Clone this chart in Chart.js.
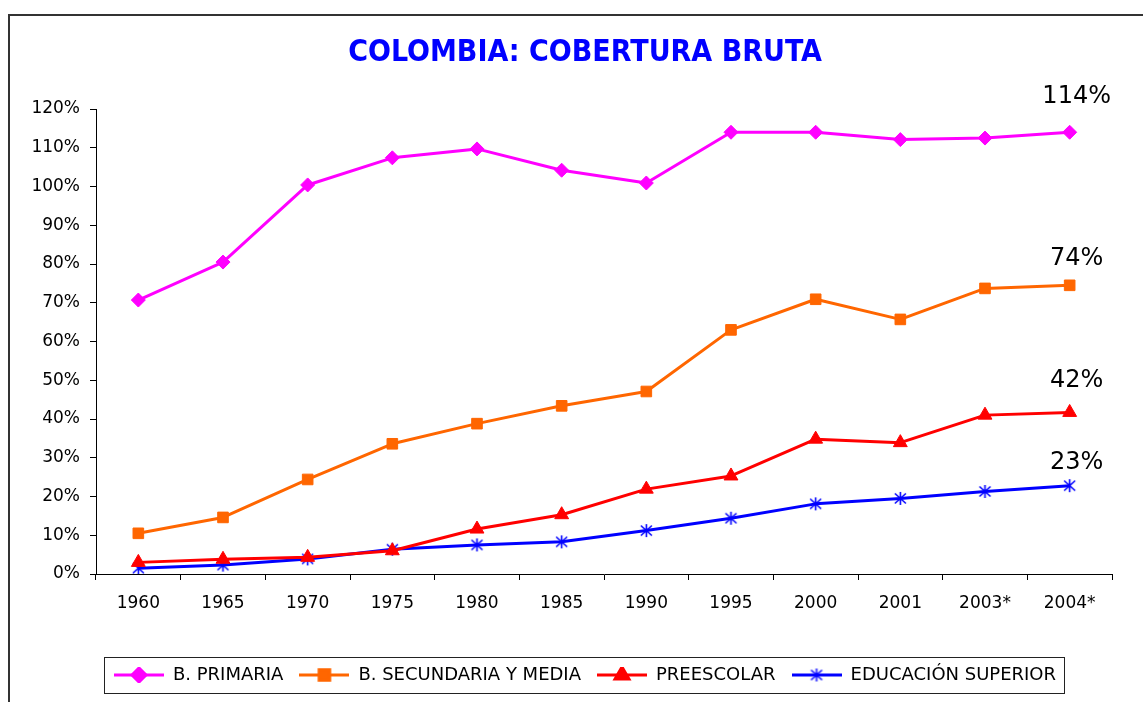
<!DOCTYPE html>
<html>
<head>
<meta charset="utf-8">
<script src="https://cdn.jsdelivr.net/npm/chart.js@4/dist/chart.umd.min.js"></script>
<style>
  body { margin: 0; background: #fff; }
  #frame { position: absolute; left: 8px; top: 14px; width: 1200px; height: 760px; border: 2px solid #333; }
  #wrap { position: absolute; left: 0; top: 0; width: 1143px; height: 702px; }
</style>
</head>
<body>
<div id="frame"></div>
<div id="wrap"><canvas id="chart" width="1143" height="702"></canvas></div>
<script>
const years = ["1960", "1965", "1970", "1975", "1980", "1985", "1990", "1995", "2000", "2001", "2003*", "2004*"];
const primaria = [70.7, 80.5, 100.4, 107.4, 109.7, 104.2, 100.9, 114.0, 114.0, 112.1, 112.5, 114.0];
const secundaria = [10.5, 14.6, 24.4, 33.6, 38.8, 43.4, 47.1, 63.0, 70.9, 65.7, 73.7, 74.5];
const preescolar = [3.0, 3.8, 4.3, 6.0, 11.6, 15.3, 21.9, 25.3, 34.8, 33.9, 41.0, 41.7];
const superior = [1.5, 2.3, 3.9, 6.4, 7.5, 8.3, 11.2, 14.4, 18.1, 19.5, 21.3, 22.8];
const endLabels = ["114%", "74%", "42%", "23%"];
const yTicks = [0, 10, 20, 30, 40, 50, 60, 70, 80, 90, 100, 110, 120];

// asterisk marker used by EDUCACIÓN SUPERIOR
function starMarker(color) {
  const c = document.createElement("canvas");
  c.width = 15; c.height = 15;
  const g = c.getContext("2d");
  g.strokeStyle = color;
  g.lineWidth = 1.6;
  g.beginPath();
  g.moveTo(7.5, 1); g.lineTo(7.5, 14);
  g.moveTo(2, 2.5); g.lineTo(13, 12.5);
  g.moveTo(13, 2.5); g.lineTo(2, 12.5);
  g.stroke();
  return c;
}

// legend swatch: line with the marker in the middle
function legendSwatch(ds) {
  const c = document.createElement("canvas");
  c.width = 50; c.height = 16;
  const g = c.getContext("2d");
  g.strokeStyle = ds.borderColor;
  g.lineWidth = 3;
  g.beginPath(); g.moveTo(0, 8); g.lineTo(50, 8); g.stroke();
  g.fillStyle = ds.borderColor;
  g.strokeStyle = ds.borderColor;
  Chart.helpers.drawPoint(g, { pointStyle: ds.pointStyle, radius: ds.pointRadius, rotation: 0, borderWidth: 1 }, 25, 8);
  return c;
}

const labelFont = "'DejaVu Sans', Verdana, sans-serif";

const endLabelPlugin = {
  id: "endLabels",
  afterDatasetsDraw(chart) {
    const ctx = chart.ctx;
    ctx.save();
    ctx.font = "24px " + labelFont;
    ctx.fillStyle = "#000";
    ctx.textAlign = "center";
    ctx.textBaseline = "middle";
    chart.data.datasets.forEach((ds, i) => {
      const meta = chart.getDatasetMeta(i);
      const pt = meta.data[meta.data.length - 1];
      ctx.fillText(endLabels[i], pt.x + 7, pt.y - ds.labelLift);
    });
    ctx.restore();
  },
};

const legendBoxPlugin = {
  id: "legendBox",
  afterDraw(chart) {
    const boxes = chart.legend.legendHitBoxes;
    if (!boxes || !boxes.length) return;
    const left = Math.min(...boxes.map((b) => b.left)) - 10;
    const right = Math.max(...boxes.map((b) => b.left + b.width)) + 8;
    const top = boxes[0].top - 9;
    const bottom = boxes[0].top + boxes[0].height + 9;
    const ctx = chart.ctx;
    ctx.save();
    ctx.strokeStyle = "#222";
    ctx.lineWidth = 1;
    ctx.strokeRect(Math.round(left) + 0.5, Math.round(top) + 0.5, Math.round(right - left), Math.round(bottom - top));
    ctx.restore();
  },
};

const datasets = [
  { label: "B. PRIMARIA", data: primaria, borderColor: "#FF00FF", pointStyle: "rectRot", pointRadius: 7, labelLift: 35 },
  { label: "B. SECUNDARIA Y MEDIA", data: secundaria, borderColor: "#FF6600", pointStyle: "rect", pointRadius: 7.5, labelLift: 27 },
  { label: "PREESCOLAR", data: preescolar, borderColor: "#FF0000", pointStyle: "triangle", pointRadius: 8, labelLift: 32 },
  { label: "EDUCACIÓN SUPERIOR", data: superior, borderColor: "#0000FF", pointStyle: starMarker("#0000FF"), pointRadius: 7, labelLift: 23 },
].map((d) => ({
  ...d,
  backgroundColor: d.borderColor,
  pointBackgroundColor: d.borderColor,
  pointBorderColor: d.borderColor,
  pointBorderWidth: 1,
  pointHoverRadius: d.pointRadius,
  borderWidth: 3,
  tension: 0,
  borderJoinStyle: "round",
}));

new Chart(document.getElementById("chart"), {
  type: "line",
  data: { labels: years, datasets },
  plugins: [endLabelPlugin, legendBoxPlugin],
  options: {
    responsive: false,
    animation: false,
    events: [],
    layout: { padding: { left: 28, right: 1, top: 0, bottom: 8 } },
    plugins: {
      title: {
        display: true,
        text: "COLOMBIA: COBERTURA BRUTA",
        color: "#0000FF",
        font: { family: "'DejaVu Sans Condensed', 'DejaVu Sans', sans-serif", size: 30, weight: "bold" },
        padding: { top: 35, bottom: 38 },
      },
      legend: {
        position: "bottom",
        labels: {
          color: "#000",
          font: { family: labelFont, size: 18 },
          usePointStyle: true,
          pointStyleWidth: 50,
          padding: 16,
          generateLabels(chart) {
            return chart.data.datasets.map((ds, i) => ({
              text: ds.label,
              fillStyle: ds.borderColor,
              strokeStyle: ds.borderColor,
              pointStyle: legendSwatch(ds),
              lineWidth: 0,
              datasetIndex: i,
              fontColor: "#000",
            }));
          },
        },
      },
      tooltip: { enabled: false },
    },
    scales: {
      x: {
        offset: true,
        grid: { offset: true, drawOnChartArea: false, drawTicks: true, tickLength: 6, color: "#000" },
        border: { display: true, color: "#000", width: 1 },
        ticks: { color: "#000", font: { family: labelFont, size: 17 }, padding: 13, maxRotation: 0 },
        afterFit(scale) { scale.height = 76; },
      },
      y: {
        min: 0,
        max: 120,
        afterBuildTicks(scale) { scale.ticks = yTicks.map((v) => ({ value: v })); },
        grid: { drawOnChartArea: false, drawTicks: true, tickLength: 6, color: "#000" },
        border: { display: true, color: "#000", width: 1 },
        ticks: { color: "#000", font: { family: labelFont, size: 17 }, padding: 10, callback: (v) => v + "%" },
        afterFit(scale) { scale.width = 68; },
      },
      // empty right-hand spacer so the plot ends where the reference's does
      yRight: {
        position: "right",
        display: true,
        grid: { display: false },
        border: { display: false },
        ticks: { display: false },
        afterFit(scale) { scale.width = 30; },
      },
    },
  },
});
</script>
</body>
</html>
